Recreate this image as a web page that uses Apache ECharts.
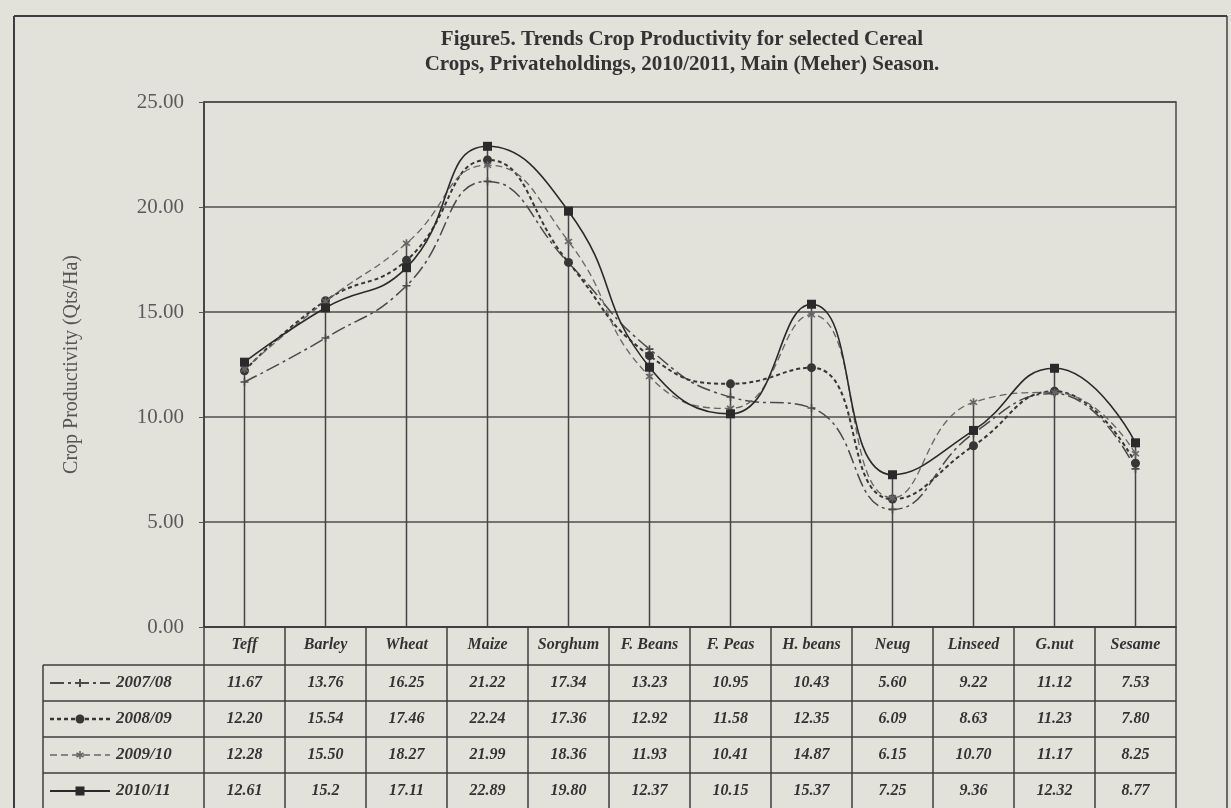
<!DOCTYPE html>
<html>
<head>
<meta charset="utf-8">
<script src="https://cdn.jsdelivr.net/npm/echarts@6/dist/echarts.min.js"></script>
<style>
  html, body { margin: 0; padding: 0; background: #e2e1da; }
  #chart { width: 1231px; height: 808px; }
</style>
</head>
<body>
<div id="chart"></div>
<script>
const crops = ['Teff', 'Barley', 'Wheat', 'Maize', 'Sorghum', 'F. Beans', 'F. Peas', 'H. beans', 'Neug', 'Linseed', 'G.nut', 'Sesame'];
const seasons = ['2007/08', '2008/09', '2009/10', '2010/11'];
const y2007_08 = ['11.67', '13.76', '16.25', '21.22', '17.34', '13.23', '10.95', '10.43', '5.60', '9.22', '11.12', '7.53'];
const y2008_09 = ['12.20', '15.54', '17.46', '22.24', '17.36', '12.92', '11.58', '12.35', '6.09', '8.63', '11.23', '7.80'];
const y2009_10 = ['12.28', '15.50', '18.27', '21.99', '18.36', '11.93', '10.41', '14.87', '6.15', '10.70', '11.17', '8.25'];
const y2010_11 = ['12.61', '15.2', '17.11', '22.89', '19.80', '12.37', '10.15', '15.37', '7.25', '9.36', '12.32', '8.77'];
const yTicks = [0, 5, 10, 15, 20, 25];

const rows = [y2007_08, y2008_09, y2009_10, y2010_11];
const serif = 'Liberation Serif';
const ink = '#333';

// estilos de cada serie (linea + marcador)
const styles = [
    { dash: [14, 4, 3, 4], width: 1.5, color: '#4a4a4a', symbol: 'path://M4,0H6V4H10V6H6V10H4V6H0V4H4Z', mark: 'plus', size: 8 },
    { dash: [4, 3], width: 2, color: '#363636', symbol: 'circle', mark: 'circle', size: 9 },
    { dash: [7, 4], width: 1.3, color: '#656565', symbol: 'path://M4,0H6V3.3L8.6,1.2L9.8,2.6L7,5L9.8,7.4L8.6,8.8L6,6.7V10H4V6.7L1.4,8.8L0.2,7.4L3,5L0.2,2.6L1.4,1.2L4,3.3Z', mark: 'star', size: 8 },
    { dash: 'solid', width: 1.6, color: '#2a2a2a', symbol: 'rect', mark: 'rect', size: 9 }
];

const chart = echarts.init(document.getElementById('chart'));

const series = seasons.map((name, i) => ({
    name: name,
    type: 'line',
    smooth: 0.5,
    data: rows[i].map(Number),
    symbol: styles[i].symbol,
    symbolSize: styles[i].size,
    showAllSymbol: true,
    lineStyle: { type: styles[i].dash, width: styles[i].width, color: styles[i].color },
    itemStyle: { color: styles[i].color },
    z: 4 + i
}));

// lineas de caida (drop lines) hasta el valor maximo de cada cultivo
series.push({
    name: 'drop',
    type: 'bar',
    barWidth: 1.5,
    silent: true,
    data: crops.map((c, j) => Math.max(...rows.map(r => Number(r[j])))),
    itemStyle: { color: '#454545' },
    z: 2
});

const option = {
    backgroundColor: '#e2e1da',
    animation: false,
    title: {
        text: 'Figure5. Trends Crop Productivity for selected Cereal\nCrops, Privateholdings, 2010/2011, Main (Meher) Season.',
        left: 677,
        top: 22,
        textAlign: 'center',
        textStyle: { fontFamily: serif, fontSize: 21, fontWeight: 'bold', color: ink, lineHeight: 25 }
    },
    grid: {
        left: 204, right: 55, top: 102, bottom: 181,
        show: true, borderColor: '#4a4a4a', borderWidth: 1.5, backgroundColor: 'transparent'
    },
    xAxis: {
        type: 'category',
        data: crops,
        axisLine: { lineStyle: { color: '#3a3a3a', width: 1.5 } },
        axisTick: { show: false },
        axisLabel: { interval: 0, margin: 10, fontFamily: serif, fontSize: 16, fontStyle: 'italic', fontWeight: 'bold', color: ink }
    },
    yAxis: {
        type: 'value',
        min: yTicks[0], max: yTicks[yTicks.length - 1], interval: yTicks[1] - yTicks[0],
        name: 'Crop Productivity (Qts/Ha)',
        nameLocation: 'middle',
        nameGap: 122,
        nameTextStyle: { fontFamily: serif, fontSize: 20, color: '#555' },
        axisLine: { show: true, lineStyle: { color: '#3a3a3a', width: 1.5 } },
        axisTick: { show: true, length: 5, lineStyle: { color: '#555' } },
        axisLabel: { margin: 20, fontFamily: serif, fontSize: 21, color: '#5a5a5a', formatter: v => v.toFixed(2) },
        splitLine: { lineStyle: { color: '#4e4e4e', width: 1.5 } }
    },
    series: series
};

chart.setOption(option);

// tabla de datos bajo el eje, alineada con las categorias del eje
function buildTable() {
    const p0 = chart.convertToPixel({ gridIndex: 0 }, [0, 0]);
    const p1 = chart.convertToPixel({ gridIndex: 0 }, [1, 0]);
    const cw = p1[0] - p0[0];
    const xLeft = p0[0] - cw / 2;
    const xRight = xLeft + cw * crops.length;
    const yAxis0 = p0[1];
    const headBottom = yAxis0 + 38;
    const rowH = 36;
    const tableLeft = 43;
    const yBottom = 808;
    const lineColor = '#3e3e3e';
    const els = [];

    const seg = (x1, y1, x2, y2, color, w) => els.push({ type: 'line', silent: true, shape: { x1, y1, x2, y2 }, style: { stroke: color, lineWidth: w } });
    const hline = (x1, x2, y, w) => seg(x1, y, x2, y, lineColor, w || 1.5);
    const vline = (x, y1, y2, w) => seg(x, y1, x, y2, lineColor, w || 1.5);

    // marco exterior
    hline(14, 1227, 16, 2);
    vline(14, 16, yBottom, 2);
    vline(1227, 16, yBottom, 1.5);

    // lineas de la tabla
    for (let r = 0; r <= seasons.length; r++) hline(tableLeft, xRight, headBottom + r * rowH);
    vline(tableLeft, headBottom, yBottom);
    for (let k = 0; k <= crops.length; k++) vline(xLeft + k * cw, yAxis0, yBottom);

    rows.forEach((row, r) => {
        const cy = headBottom + r * rowH + rowH / 2;
        const st = styles[r];
        const mx = 80;
        const h = st.size / 2;
        // muestra de leyenda
        els.push({ type: 'line', silent: true, shape: { x1: 50, y1: cy, x2: 110, y2: cy },
            style: { stroke: st.color, lineWidth: st.width + 0.4, lineDash: st.dash === 'solid' ? null : st.dash } });
        if (st.mark === 'circle') {
            els.push({ type: 'circle', silent: true, shape: { cx: mx, cy, r: h }, style: { fill: st.color } });
        } else if (st.mark === 'rect') {
            els.push({ type: 'rect', silent: true, shape: { x: mx - h, y: cy - h, width: st.size, height: st.size }, style: { fill: st.color } });
        } else if (st.mark === 'plus') {
            seg(mx - h, cy, mx + h, cy, st.color, 2);
            seg(mx, cy - h, mx, cy + h, st.color, 2);
        } else {
            seg(mx, cy - h, mx, cy + h, st.color, 1.6);
            seg(mx - h * 0.87, cy - h * 0.5, mx + h * 0.87, cy + h * 0.5, st.color, 1.6);
            seg(mx - h * 0.87, cy + h * 0.5, mx + h * 0.87, cy - h * 0.5, st.color, 1.6);
        }
        els.push({ type: 'text', silent: true, x: 116, y: cy,
            style: { text: seasons[r], fontFamily: serif, fontSize: 17, fontStyle: 'italic', fontWeight: 'bold', fill: ink, align: 'left', verticalAlign: 'middle' } });
        row.forEach((v, j) => {
            els.push({ type: 'text', silent: true, x: xLeft + (j + 0.5) * cw, y: cy,
                style: { text: v, fontFamily: serif, fontSize: 16, fontStyle: 'italic', fontWeight: 'bold', fill: ink, align: 'center', verticalAlign: 'middle' } });
        });
    });

    chart.setOption({ graphic: { elements: els } });
}

buildTable();

window.addEventListener('resize', function() {
    chart.resize();
    buildTable();
});
</script>
</body>
</html>
